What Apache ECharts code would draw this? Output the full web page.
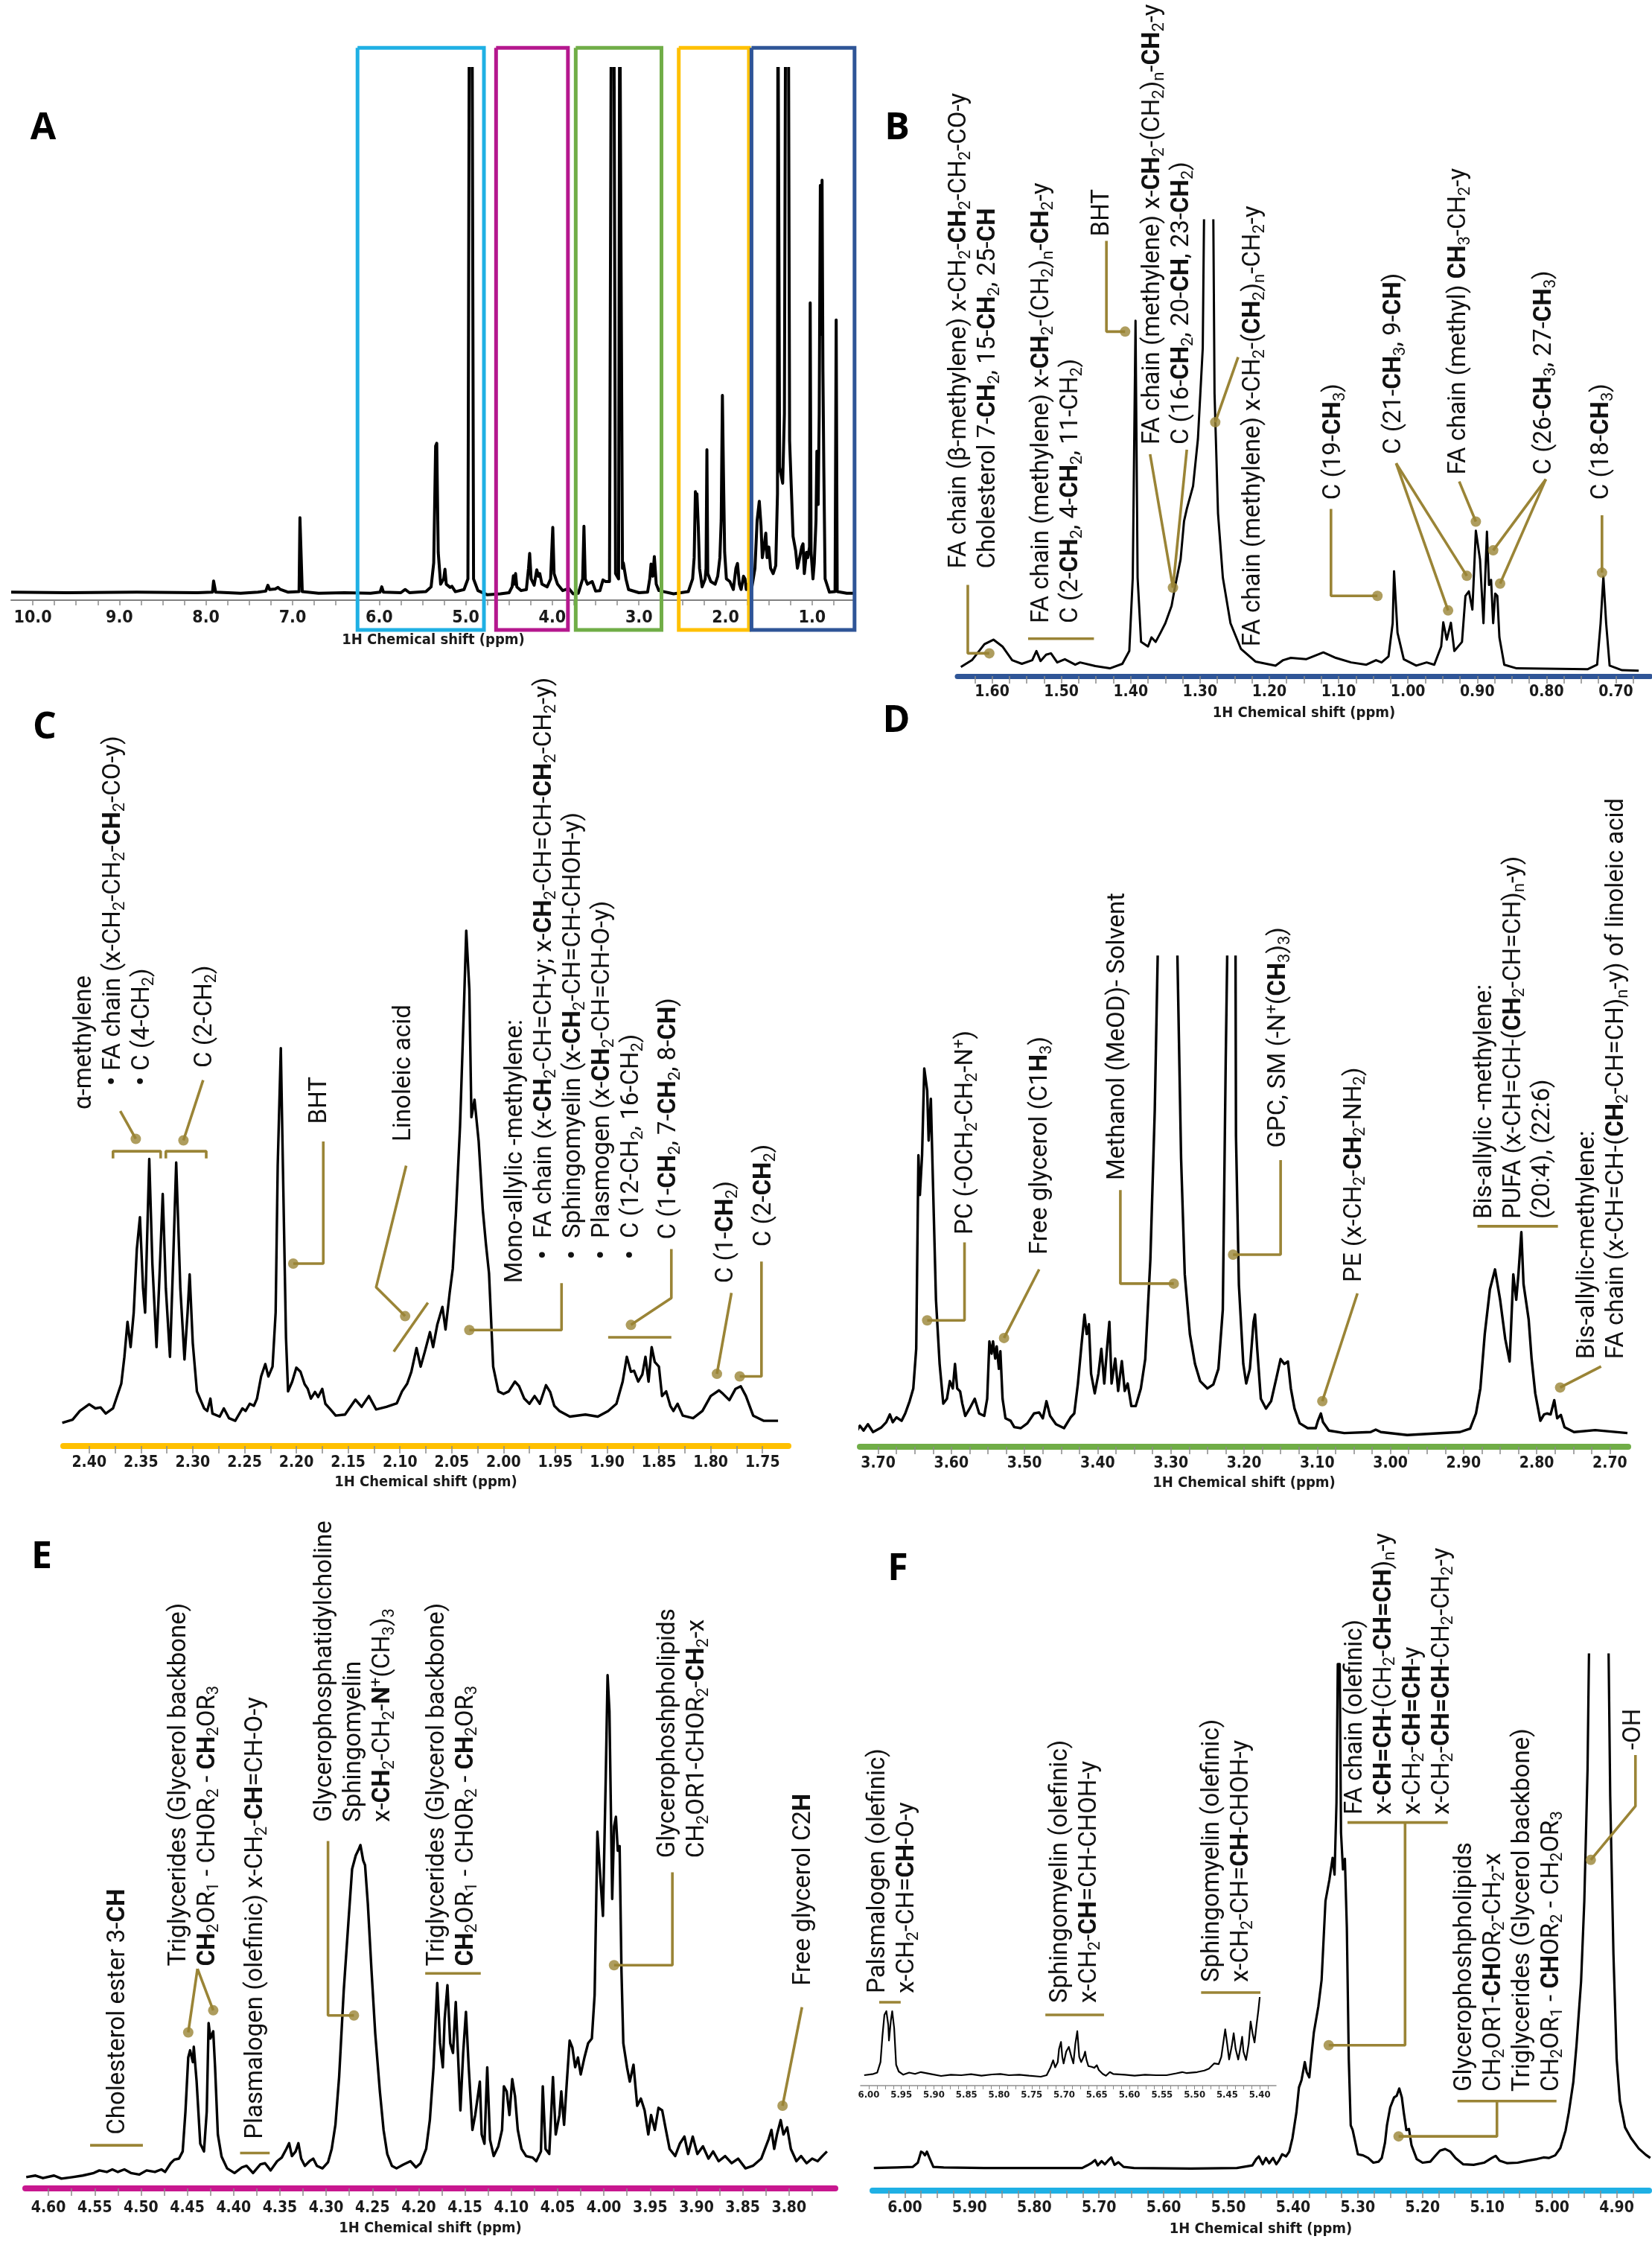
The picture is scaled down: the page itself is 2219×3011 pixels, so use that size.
<!DOCTYPE html>
<html lang="en">
<head>
<meta charset="UTF-8">
<title>1H NMR lipid extract</title>
<style>
  html, body { margin: 0; padding: 0; background: #fff; }
  #chart { width: 2219px; height: 3011px; }
</style>
</head>
<body>
<div id="chart"></div>
<script src="https://cdn.jsdelivr.net/npm/echarts@6/dist/echarts.min.js"></script>
<script>
// ---- data: [ppm, relative intensity] ----
var specA = [
  [10.25,0.015],[9.6,0.014],[8.8,0.015],[8.1,0.014],[7.925,0.015],[7.912,0.036],[7.898,0.036],[7.888,0.015],
  [7.6,0.013],[7.4,0.015],[7.31,0.017],[7.285,0.028],[7.265,0.02],[7.2,0.021],[7.17,0.024],[7.14,0.02],[7.05,0.015],
  [6.925,0.016],[6.915,0.155],[6.898,0.155],[6.888,0.016],[6.7,0.013],[6.4,0.014],[6.1,0.013],[5.99,0.015],[5.97,0.025],
  [5.95,0.015],[5.75,0.014],[5.70,0.02],[5.65,0.014],[5.46,0.016],[5.40,0.025],[5.37,0.07],[5.348,0.29],[5.335,0.295],
  [5.318,0.09],[5.29,0.03],[5.255,0.04],[5.24,0.058],[5.225,0.03],[5.18,0.024],[5.16,0.026],[5.12,0.016],[5.02,0.02],
  [4.975,0.04],[4.958,1.2],[4.928,1.2],[4.91,0.04],[4.86,0.018],[4.75,0.01],[4.6,0.012],[4.50,0.014],[4.465,0.025],
  [4.45,0.046],[4.435,0.03],[4.425,0.05],[4.41,0.025],[4.36,0.018],[4.30,0.02],[4.275,0.06],[4.262,0.088],[4.245,0.04],
  [4.21,0.028],[4.18,0.057],[4.16,0.045],[4.145,0.05],[4.12,0.03],[4.06,0.025],[4.02,0.04],[3.995,0.137],[3.98,0.05],
  [3.94,0.03],[3.88,0.018],[3.81,0.022],[3.76,0.012],[3.70,0.013],[3.65,0.04],[3.635,0.139],[3.62,0.04],[3.595,0.03],
  [3.54,0.035],[3.5,0.017],[3.45,0.018],[3.415,0.038],[3.385,0.035],[3.34,0.035],[3.318,1.2],[3.29,1.2],[3.27,0.05],
  [3.235,0.04],[3.222,1.2],[3.208,1.2],[3.19,0.06],[3.18,0.07],[3.15,0.04],[3.12,0.02],[3.0,0.014],[2.9,0.015],
  [2.875,0.04],[2.86,0.068],[2.84,0.045],[2.822,0.082],[2.80,0.03],[2.77,0.018],[2.6,0.012],[2.43,0.016],[2.38,0.04],
  [2.362,0.08],[2.348,0.204],[2.34,0.16],[2.33,0.2],[2.315,0.14],[2.30,0.06],[2.27,0.025],[2.235,0.04],[2.225,0.06],
  [2.215,0.283],[2.205,0.05],[2.17,0.035],[2.12,0.03],[2.09,0.045],[2.065,0.08],[2.05,0.15],[2.036,0.385],[2.025,0.25],
  [2.01,0.09],[1.99,0.04],[1.95,0.035],[1.91,0.02],[1.88,0.06],[1.862,0.069],[1.84,0.03],[1.82,0.02],[1.792,0.045],
  [1.775,0.04],[1.76,0.02],[1.74,0.03],[1.70,0.02],[1.66,0.06],[1.635,0.15],[1.61,0.186],[1.59,0.14],[1.575,0.08],
  [1.555,0.1],[1.535,0.126],[1.52,0.08],[1.50,0.1],[1.48,0.06],[1.45,0.05],[1.42,0.065],[1.40,0.2],[1.395,1.2],
  [1.385,1.2],[1.375,0.25],[1.34,0.22],[1.32,0.35],[1.305,1.2],[1.275,1.2],[1.26,0.3],[1.22,0.12],[1.19,0.093],
  [1.17,0.06],[1.15,0.075],[1.12,0.1],[1.105,0.106],[1.09,0.05],[1.065,0.09],[1.05,0.08],[1.03,0.1],[1.022,0.559],
  [1.012,0.09],[0.99,0.04],[0.975,0.07],[0.955,0.15],[0.945,0.28],[0.93,0.18],[0.918,0.35],[0.905,0.78],[0.895,0.5],
  [0.885,0.79],[0.875,0.43],[0.865,0.25],[0.85,0.04],[0.80,0.015],[0.735,0.016],[0.722,0.527],[0.71,0.016],[0.6,0.013],[0.5,0.013]
];
var specB = [
  [1.645,0.02],[1.629,0.035],[1.611,0.07],[1.598,0.08],[1.585,0.065],[1.571,0.035],[1.557,0.027],[1.542,0.035],
  [1.536,0.055],[1.530,0.033],[1.522,0.047],[1.515,0.05],[1.506,0.03],[1.495,0.037],[1.480,0.025],[1.473,0.03],
  [1.451,0.022],[1.430,0.017],[1.412,0.027],[1.402,0.055],[1.397,0.216],[1.393,0.78],[1.390,0.216],[1.385,0.075],
  [1.375,0.065],[1.370,0.085],[1.364,0.075],[1.357,0.095],[1.350,0.116],[1.341,0.154],[1.336,0.196],[1.328,0.256],
  [1.323,0.34],[1.319,0.367],[1.310,0.417],[1.303,0.52],[1.296,0.72],[1.291,1.5],[1.283,1.5],[1.279,0.62],
  [1.274,0.357],[1.267,0.216],[1.256,0.116],[1.241,0.06],[1.220,0.032],[1.191,0.023],[1.180,0.035],[1.169,0.04],
  [1.147,0.037],[1.122,0.052],[1.104,0.04],[1.082,0.03],[1.060,0.025],[1.046,0.035],[1.038,0.03],[1.028,0.043],
  [1.022,0.116],[1.020,0.23],[1.015,0.095],[1.006,0.037],[0.988,0.023],[0.973,0.03],[0.962,0.025],[0.952,0.065],
  [0.949,0.118],[0.944,0.08],[0.938,0.117],[0.933,0.055],[0.922,0.075],[0.917,0.176],[0.912,0.186],[0.907,0.146],
  [0.902,0.319],[0.896,0.256],[0.891,0.116],[0.886,0.317],[0.883,0.2],[0.880,0.211],[0.877,0.116],[0.874,0.181],
  [0.871,0.176],[0.868,0.085],[0.861,0.025],[0.843,0.017],[0.741,0.015],[0.727,0.025],[0.722,0.116],[0.718,0.218],
  [0.714,0.116],[0.709,0.023],[0.691,0.013],[0.667,0.012]
];
var specC = [
  [2.426,0.045],[2.416,0.051],[2.409,0.068],[2.400,0.081],[2.394,0.073],[2.389,0.075],[2.384,0.063],[2.377,0.073],
  [2.369,0.121],[2.366,0.173],[2.363,0.241],[2.360,0.192],[2.357,0.259],[2.354,0.382],[2.351,0.444],[2.348,0.306],
  [2.346,0.259],[2.342,0.557],[2.339,0.354],[2.335,0.192],[2.332,0.335],[2.329,0.489],[2.326,0.306],[2.322,0.173],
  [2.319,0.354],[2.316,0.550],[2.312,0.306],[2.308,0.168],[2.305,0.259],[2.303,0.333],[2.300,0.20],[2.296,0.106],
  [2.289,0.073],[2.286,0.068],[2.283,0.092],[2.281,0.063],[2.274,0.057],[2.270,0.073],[2.265,0.054],[2.259,0.049],
  [2.252,0.073],[2.249,0.068],[2.245,0.082],[2.241,0.078],[2.238,0.092],[2.234,0.135],[2.230,0.159],[2.227,0.135],
  [2.223,0.154],[2.220,0.259],[2.218,0.544],[2.215,0.772],[2.213,0.544],[2.210,0.21],[2.208,0.106],[2.204,0.125],
  [2.200,0.152],[2.196,0.144],[2.192,0.12],[2.189,0.111],[2.186,0.092],[2.182,0.105],[2.179,0.095],[2.175,0.111],
  [2.172,0.082],[2.168,0.073],[2.162,0.059],[2.153,0.061],[2.143,0.09],[2.137,0.076],[2.130,0.097],[2.123,0.071],
  [2.113,0.076],[2.103,0.083],[2.098,0.106],[2.093,0.121],[2.089,0.144],[2.084,0.19],[2.080,0.154],[2.076,0.183],
  [2.071,0.221],[2.068,0.192],[2.064,0.235],[2.059,0.27],[2.056,0.226],[2.052,0.297],[2.049,0.344],[2.046,0.449],
  [2.042,0.62],[2.038,0.867],[2.036,1.0],[2.033,0.886],[2.031,0.638],[2.028,0.672],[2.024,0.591],[2.020,0.458],
  [2.017,0.392],[2.014,0.335],[2.010,0.154],[2.005,0.106],[2.000,0.101],[1.995,0.106],[1.989,0.125],[1.985,0.116],
  [1.980,0.092],[1.975,0.082],[1.970,0.097],[1.965,0.082],[1.959,0.118],[1.955,0.105],[1.951,0.078],[1.946,0.068],
  [1.936,0.057],[1.921,0.061],[1.909,0.057],[1.899,0.068],[1.891,0.082],[1.885,0.125],[1.881,0.173],[1.877,0.144],
  [1.874,0.146],[1.870,0.125],[1.866,0.139],[1.863,0.173],[1.860,0.125],[1.857,0.192],[1.854,0.163],[1.850,0.154],
  [1.847,0.097],[1.843,0.106],[1.839,0.078],[1.836,0.068],[1.832,0.082],[1.827,0.059],[1.817,0.054],[1.808,0.068],
  [1.800,0.097],[1.792,0.108],[1.788,0.101],[1.782,0.089],[1.776,0.111],[1.771,0.116],[1.766,0.097],[1.759,0.059],
  [1.749,0.049],[1.735,0.049]
];
var specD = [
  [3.731,0.027],[3.725,0.043],[3.720,0.033],[3.714,0.046],[3.707,0.030],[3.696,0.039],[3.689,0.05],[3.684,0.066],
  [3.680,0.05],[3.675,0.06],[3.668,0.053],[3.663,0.068],[3.657,0.093],[3.652,0.119],[3.648,0.20],[3.645,0.595],
  [3.643,0.514],[3.640,0.595],[3.637,0.772],[3.633,0.727],[3.631,0.625],[3.628,0.71],[3.625,0.532],[3.621,0.30],
  [3.616,0.169],[3.611,0.088],[3.606,0.098],[3.602,0.134],[3.598,0.119],[3.595,0.169],[3.592,0.119],[3.588,0.113],
  [3.585,0.088],[3.581,0.063],[3.575,0.078],[3.568,0.098],[3.562,0.068],[3.555,0.063],[3.551,0.098],[3.548,0.215],
  [3.545,0.19],[3.543,0.215],[3.540,0.18],[3.538,0.205],[3.535,0.159],[3.533,0.195],[3.530,0.098],[3.526,0.058],
  [3.519,0.053],[3.514,0.04],[3.505,0.038],[3.496,0.048],[3.487,0.068],[3.480,0.07],[3.475,0.058],[3.470,0.093],
  [3.465,0.063],[3.457,0.046],[3.446,0.038],[3.437,0.06],[3.432,0.068],[3.427,0.129],[3.422,0.21],[3.418,0.27],
  [3.415,0.23],[3.412,0.25],[3.409,0.149],[3.404,0.109],[3.399,0.149],[3.395,0.2],[3.391,0.129],[3.387,0.205],
  [3.384,0.255],[3.381,0.129],[3.376,0.18],[3.372,0.114],[3.367,0.175],[3.363,0.114],[3.359,0.129],[3.354,0.083],
  [3.348,0.083],[3.341,0.119],[3.335,0.179],[3.328,0.382],[3.322,0.686],[3.318,1.0],[3.312,2.5],[3.297,2.5],
  [3.291,1.0],[3.286,0.588],[3.281,0.352],[3.274,0.23],[3.267,0.169],[3.260,0.134],[3.250,0.119],[3.242,0.127],
  [3.235,0.159],[3.229,0.28],[3.225,0.79],[3.223,1.0],[3.220,2.5],[3.214,2.5],[3.211,0.635],[3.207,0.33],
  [3.201,0.169],[3.197,0.129],[3.192,0.159],[3.187,0.255],[3.185,0.27],[3.182,0.2],[3.177,0.098],[3.170,0.078],
  [3.163,0.093],[3.156,0.139],[3.150,0.179],[3.145,0.169],[3.140,0.174],[3.136,0.119],[3.131,0.078],[3.124,0.048],
  [3.113,0.038],[3.102,0.038],[3.099,0.053],[3.095,0.068],[3.092,0.05],[3.084,0.033],[3.063,0.028],[3.027,0.03],
  [3.020,0.035],[3.013,0.03],[2.977,0.024],[2.905,0.03],[2.891,0.037],[2.883,0.068],[2.877,0.119],[2.871,0.23],
  [2.864,0.321],[2.857,0.362],[2.850,0.30],[2.843,0.22],[2.837,0.174],[2.832,0.352],[2.828,0.30],[2.825,0.352],
  [2.821,0.438],[2.818,0.332],[2.814,0.291],[2.811,0.26],[2.807,0.18],[2.802,0.109],[2.795,0.053],[2.790,0.066],
  [2.786,0.068],[2.781,0.066],[2.776,0.095],[2.772,0.058],[2.767,0.065],[2.762,0.04],[2.749,0.03],[2.720,0.034],
  [2.698,0.031],[2.676,0.028]
];
var specE = [
  [4.624,0.022],[4.614,0.025],[4.606,0.020],[4.594,0.025],[4.586,0.019],[4.574,0.022],[4.563,0.025],[4.551,0.030],
  [4.545,0.035],[4.537,0.032],[4.531,0.037],[4.525,0.032],[4.518,0.037],[4.511,0.030],[4.502,0.027],[4.494,0.035],
  [4.485,0.032],[4.478,0.037],[4.474,0.032],[4.468,0.049],[4.464,0.056],[4.459,0.058],[4.455,0.072],[4.452,0.15],
  [4.449,0.255],[4.447,0.269],[4.444,0.246],[4.443,0.276],[4.440,0.21],[4.436,0.087],[4.432,0.072],[4.429,0.15],
  [4.427,0.322],[4.425,0.292],[4.422,0.306],[4.420,0.236],[4.417,0.105],[4.413,0.062],[4.407,0.039],[4.399,0.030],
  [4.391,0.041],[4.386,0.044],[4.379,0.030],[4.371,0.047],[4.366,0.049],[4.360,0.035],[4.353,0.053],[4.348,0.06],
  [4.343,0.077],[4.340,0.088],[4.337,0.063],[4.333,0.072],[4.330,0.088],[4.327,0.058],[4.323,0.044],[4.318,0.053],
  [4.314,0.058],[4.310,0.044],[4.304,0.039],[4.298,0.051],[4.294,0.077],[4.290,0.124],[4.286,0.217],[4.281,0.386],
  [4.276,0.518],[4.272,0.622],[4.268,0.649],[4.265,0.66],[4.263,0.669],[4.260,0.639],[4.258,0.630],[4.255,0.555],
  [4.251,0.424],[4.247,0.302],[4.242,0.189],[4.238,0.114],[4.234,0.067],[4.229,0.044],[4.224,0.039],[4.217,0.046],
  [4.209,0.053],[4.203,0.041],[4.198,0.049],[4.192,0.077],[4.188,0.133],[4.184,0.236],[4.180,0.40],[4.177,0.283],
  [4.174,0.236],[4.172,0.33],[4.169,0.396],[4.166,0.283],[4.163,0.264],[4.160,0.363],[4.157,0.236],[4.155,0.152],
  [4.152,0.264],[4.149,0.344],[4.146,0.236],[4.142,0.114],[4.139,0.143],[4.134,0.208],[4.132,0.105],[4.129,0.087],
  [4.126,0.236],[4.123,0.095],[4.119,0.063],[4.114,0.082],[4.110,0.114],[4.108,0.199],[4.105,0.189],[4.102,0.143],
  [4.099,0.213],[4.096,0.18],[4.093,0.114],[4.089,0.077],[4.084,0.063],[4.077,0.06],[4.073,0.053],[4.068,0.072],
  [4.066,0.199],[4.063,0.077],[4.059,0.067],[4.055,0.217],[4.052,0.105],[4.048,0.143],[4.046,0.189],[4.043,0.124],
  [4.040,0.208],[4.037,0.288],[4.034,0.274],[4.031,0.236],[4.028,0.255],[4.025,0.222],[4.021,0.255],[4.017,0.283],
  [4.013,0.292],[4.010,0.377],[4.007,0.695],[4.004,0.611],[4.001,0.531],[3.998,0.799],[3.996,1.0],[3.994,0.93],
  [3.991,0.564],[3.989,0.705],[3.987,0.724],[3.985,0.658],[3.983,0.667],[3.981,0.424],[3.979,0.283],[3.975,0.236],
  [3.972,0.208],[3.968,0.241],[3.964,0.161],[3.960,0.175],[3.956,0.152],[3.952,0.105],[3.949,0.143],[3.945,0.114],
  [3.941,0.157],[3.937,0.152],[3.933,0.114],[3.929,0.077],[3.923,0.063],[3.918,0.087],[3.913,0.101],[3.909,0.067],
  [3.904,0.101],[3.899,0.067],[3.893,0.082],[3.887,0.058],[3.882,0.072],[3.876,0.053],[3.869,0.063],[3.862,0.049],
  [3.855,0.058],[3.847,0.039],[3.839,0.044],[3.830,0.058],[3.826,0.077],[3.822,0.096],[3.819,0.114],[3.816,0.077],
  [3.813,0.105],[3.809,0.133],[3.806,0.105],[3.802,0.119],[3.798,0.077],[3.792,0.053],[3.787,0.063],[3.781,0.049],
  [3.775,0.058],[3.769,0.053],[3.764,0.063],[3.759,0.072]
];
var specF = [
  [6.048,0.043],[6.012,0.044],[5.988,0.045],[5.980,0.053],[5.975,0.074],[5.972,0.072],[5.969,0.067],[5.966,0.074],
  [5.962,0.062],[5.956,0.045],[5.940,0.044],[5.877,0.043],[5.797,0.043],[5.726,0.043],[5.718,0.048],[5.711,0.053],
  [5.706,0.058],[5.702,0.048],[5.696,0.056],[5.691,0.05],[5.686,0.057],[5.681,0.063],[5.676,0.049],[5.670,0.054],
  [5.662,0.045],[5.646,0.043],[5.558,0.042],[5.487,0.043],[5.463,0.048],[5.457,0.06],[5.453,0.065],[5.447,0.05],
  [5.442,0.062],[5.437,0.052],[5.431,0.062],[5.426,0.05],[5.422,0.057],[5.417,0.069],[5.411,0.065],[5.406,0.074],
  [5.401,0.10],[5.395,0.148],[5.391,0.196],[5.387,0.21],[5.382,0.244],[5.379,0.225],[5.375,0.215],[5.372,0.253],
  [5.368,0.30],[5.361,0.35],[5.356,0.40],[5.350,0.55],[5.344,0.59],[5.339,0.632],[5.336,0.60],[5.333,0.737],
  [5.331,1.0],[5.328,1.0],[5.326,0.68],[5.323,0.61],[5.320,0.63],[5.317,0.50],[5.314,0.25],[5.311,0.124],
  [5.308,0.115],[5.300,0.069],[5.292,0.067],[5.284,0.062],[5.276,0.053],[5.268,0.055],[5.263,0.062],[5.258,0.091],
  [5.255,0.124],[5.250,0.158],[5.244,0.177],[5.240,0.18],[5.236,0.194],[5.232,0.177],[5.229,0.148],[5.225,0.115],
  [5.221,0.117],[5.217,0.086],[5.209,0.06],[5.200,0.053],[5.188,0.055],[5.181,0.065],[5.173,0.076],[5.165,0.079],
  [5.157,0.074],[5.149,0.062],[5.137,0.05],[5.121,0.049],[5.105,0.053],[5.093,0.062],[5.087,0.066],[5.081,0.057],
  [5.069,0.052],[5.053,0.053],[5.037,0.057],[5.023,0.06],[5.013,0.063],[5.005,0.062],[4.995,0.067],[4.987,0.081],
  [4.979,0.114],[4.974,0.148],[4.967,0.206],[4.962,0.277],[4.955,0.397],[4.950,0.55],[4.945,0.8],[4.940,1.3],
  [4.915,1.3],[4.910,0.75],[4.905,0.45],[4.900,0.25],[4.895,0.17],[4.887,0.12],[4.878,0.10],[4.866,0.08],
  [4.855,0.068],[4.848,0.062]
];
var specInset = [
  [6.007,0.14],[5.993,0.157],[5.987,0.175],[5.982,0.316],[5.979,0.668],[5.976,0.95],[5.973,1.0],[5.970,0.81],
  [5.969,0.605],[5.966,0.88],[5.964,1.0],[5.961,0.77],[5.958,0.28],[5.954,0.19],[5.947,0.147],[5.938,0.175],
  [5.929,0.157],[5.920,0.182],[5.905,0.157],[5.889,0.13],[5.874,0.147],[5.858,0.14],[5.843,0.154],[5.827,0.133],
  [5.811,0.15],[5.798,0.157],[5.785,0.14],[5.769,0.147],[5.754,0.133],[5.736,0.12],[5.727,0.14],[5.721,0.246],
  [5.717,0.34],[5.714,0.246],[5.710,0.316],[5.708,0.492],[5.705,0.587],[5.703,0.386],[5.701,0.298],[5.697,0.457],
  [5.693,0.52],[5.689,0.386],[5.686,0.298],[5.683,0.562],[5.680,0.731],[5.677,0.386],[5.674,0.316],[5.670,0.393],
  [5.668,0.457],[5.666,0.351],[5.663,0.263],[5.658,0.253],[5.654,0.239],[5.650,0.274],[5.647,0.21],[5.641,0.157],
  [5.636,0.133],[5.630,0.182],[5.625,0.157],[5.607,0.147],[5.592,0.133],[5.576,0.147],[5.559,0.14],[5.543,0.14],
  [5.528,0.165],[5.519,0.182],[5.512,0.168],[5.496,0.182],[5.485,0.203],[5.478,0.228],[5.470,0.298],[5.463,0.288],
  [5.459,0.386],[5.453,0.756],[5.450,0.562],[5.447,0.351],[5.443,0.527],[5.440,0.704],[5.437,0.492],[5.433,0.351],
  [5.430,0.492],[5.427,0.657],[5.425,0.457],[5.421,0.344],[5.417,0.562],[5.414,0.862],[5.411,0.703],[5.408,0.58],
  [5.405,0.809],[5.402,1.02],[5.400,1.19]
];

// axis extents [min, max] in ppm
var rangeA = [0.5, 10.25], rangeB = [0.65, 1.65], rangeC = [1.725, 2.425];
var rangeD = [2.675, 3.725], rangeE = [3.75, 4.625], rangeF = [4.85, 6.05], rangeInset = [5.375, 6.0125];

// the five coloured boxes of panel A: [high ppm, low ppm]
var boxRanges = [[6.25, 4.79], [4.65, 3.82], [3.73, 2.74], [2.54, 1.73], [1.70, 0.51]];

// annotations: [ppm, intensity at text start, text]; ** bold, _ subscript, ^ superscript, > indent
var notesB = [
  [1.647, 0.236, 'FA chain (β-methylene) x-CH_2-**CH_2**-CH_2-CO-y\nCholesterol 7-**CH_2**, 15-**CH_2**, 25-**CH**'],
  [1.528, 0.116, 'FA chain (methylene) x-**CH_2**-(CH_2)_n-**CH_2**-y\nC (2-**CH_2**, 4-**CH_2**, 11-CH_2)'],
  [1.441, 0.965, 'BHT'],
  [1.368, 0.508, 'FA chain (methylene) x-**CH_2**-(CH_2)_n-**CH_2**-y\nC (16-**CH_2**, 20-**CH**, 23-**CH_2**)'],
  [1.223, 0.065, 'FA chain (methylene) x-CH_2-(**CH_2**)_n-CH_2-y'],
  [1.107, 0.387, 'C (19-**CH_3**)'],
  [1.020, 0.487, 'C (21-**CH_3**, 9-**CH**)'],
  [0.926, 0.442, 'FA chain (methyl) **CH_3**-CH_2-y'],
  [0.803, 0.442, 'C (26-**CH_3**, 27-**CH_3**)'],
  [0.720, 0.387, 'C (18-**CH_3**)']
];
var leadersB = [
  [[1.635, 0.20], [1.635, 0.05], [1.604, 0.05]],
  [[1.548, 0.082], [1.453, 0.082]],
  [[1.435, 0.955], [1.435, 0.756], [1.408, 0.756]],
  [[1.372, 0.487], [1.339, 0.194]], [[1.319, 0.497], [1.339, 0.194]],
  [[1.245, 0.70], [1.278, 0.557]],
  [[1.111, 0.367], [1.111, 0.176], [1.044, 0.176]],
  [[1.017, 0.467], [0.942, 0.144]], [[1.017, 0.467], [0.915, 0.22]],
  [[0.926, 0.427], [0.902, 0.339]],
  [[0.801, 0.432], [0.877, 0.276]], [[0.801, 0.432], [0.867, 0.203]],
  [[0.720, 0.353], [0.720, 0.227]]
];
var dotsB = [[1.604, 0.05], [1.408, 0.756], [1.339, 0.194], [1.278, 0.557], [1.044, 0.176], [0.942, 0.144],
  [0.915, 0.22], [0.902, 0.339], [0.877, 0.276], [0.867, 0.203], [0.720, 0.227]];

var notesC = [
  [2.404, 0.653, 'α-methylene\n>**•** FA chain (x-CH_2-CH_2-**CH_2**-CO-y)\n>**•** C (4-CH_2)'],
  [2.288, 0.734, 'C (2-CH_2)'],
  [2.177, 0.625, 'BHT'],
  [2.096, 0.591, 'Linoleic acid'],
  [1.988, 0.316, 'Mono-allylic -methylene:\n>**•**  FA chain (x-**CH_2**-CH=CH-y; x-**CH_2**-CH=CH-**CH_2**-CH_2-y)\n>**•**  Sphingomyelin (x-**CH_2**-CH=CH-CHOH-y)\n>**•**  Plasmogen (x-**CH_2**-CH=CH-O-y)\n>**•**  C (12-CH_2, 16-CH_2)'],
  [1.840, 0.401, 'C (1-**CH_2**, 7-**CH_2**, 8-**CH**)'],
  [1.785, 0.316, 'C (1-**CH_2**)'],
  [1.748, 0.387, 'C (2-**CH_2**)']
];
var leadersC = [
  [[2.377, 0.558], [2.377, 0.572], [2.331, 0.572], [2.331, 0.558]],
  [[2.370, 0.650], [2.355, 0.596]],
  [[2.326, 0.558], [2.326, 0.572], [2.287, 0.572], [2.287, 0.558]],
  [[2.290, 0.710], [2.309, 0.593]],
  [[2.174, 0.591], [2.174, 0.354], [2.203, 0.354]],
  [[2.094, 0.544], [2.123, 0.308], [2.095, 0.252]],
  [[2.106, 0.183], [2.073, 0.278]],
  [[1.944, 0.316], [1.944, 0.225], [2.033, 0.225]],
  [[1.838, 0.382], [1.838, 0.287], [1.877, 0.235]],
  [[1.899, 0.211], [1.838, 0.211]],
  [[1.780, 0.297], [1.794, 0.140]],
  [[1.751, 0.358], [1.751, 0.135], [1.772, 0.135]]
];
var dotsC = [[2.355, 0.596], [2.309, 0.593], [2.203, 0.354], [2.095, 0.252], [2.033, 0.225], [1.877, 0.235],
  [1.794, 0.140], [1.772, 0.135]];

var notesD = [
  [3.580, 0.433, 'PC (-OCH_2-CH_2-N^+)'],
  [3.478, 0.392, 'Free glycerol (C1**H_3**)'],
  [3.372, 0.544, 'Methanol (MeOD)- Solvent'],
  [3.152, 0.610, 'GPC, SM (-N^+(**CH_3**)_3)'],
  [3.049, 0.336, 'PE (x-CH_2-**CH_2**-NH_2)'],
  [2.871, 0.465, 'Bis-allylic -methylene:\nPUFA (x-CH=CH-(**CH_2**-CH=CH)_n-y)\n(20:4), (22:6)'],
  [2.730, 0.179, 'Bis-allylic-methylene:\nFA chain (x-CH=CH-(**CH_2**-CH=CH)_n-y) of linoleic acid']
];
var leadersD = [
  [[3.582, 0.417], [3.582, 0.258], [3.633, 0.258]],
  [[3.480, 0.362], [3.528, 0.222]],
  [[3.369, 0.524], [3.369, 0.333], [3.296, 0.333]],
  [[3.150, 0.585], [3.150, 0.392], [3.215, 0.392]],
  [[3.045, 0.313], [3.093, 0.093]],
  [[2.881, 0.45], [2.771, 0.45]],
  [[2.712, 0.164], [2.768, 0.121]]
];
var dotsD = [[3.633, 0.258], [3.528, 0.222], [3.296, 0.333], [3.215, 0.392], [3.093, 0.093], [2.768, 0.121]];

var notesE = [
  [4.525, 0.105, 'Cholesterol ester 3-**CH**'],
  [4.459, 0.433, 'Triglycerides (Glycerol backbone)\n**CH_2**OR_1 - CHOR_2 - **CH_2**OR_3'],
  [4.376, 0.096, 'Plasmalogen (olefinic) x-CH_2-**CH**=CH-O-y'],
  [4.301, 0.714, 'Glycerophosphatidylcholine\nSphingomyelin\nx-**CH_2**-CH_2-**N**^+(CH_3)_3'],
  [4.180, 0.433, 'Triglycerides (Glycerol backbone)\n**CH_2**OR_1 - CHOR_2 - **CH_2**OR_3'],
  [3.930, 0.644, 'Glycerophoshpholipids\nCH_2OR1-CHOR_2-**CH_2**-x'],
  [3.784, 0.395, 'Free glycerol C2**H**']
];
var leadersE = [
  [[4.555, 0.084], [4.498, 0.084]],
  [[4.439, 0.428], [4.449, 0.304]], [[4.439, 0.428], [4.422, 0.347]],
  [[4.393, 0.069], [4.361, 0.069]],
  [[4.298, 0.677], [4.298, 0.337], [4.270, 0.337]],
  [[4.193, 0.419], [4.133, 0.419]],
  [[3.926, 0.616], [3.926, 0.435], [3.989, 0.435]],
  [[3.786, 0.353], [3.807, 0.161]]
];
var dotsE = [[4.449, 0.304], [4.422, 0.347], [4.270, 0.337], [3.989, 0.435], [3.807, 0.161]];

var notesF = [
  [5.304, 0.714, 'FA chain (olefinic)\nx-**CH=CH**-(CH_2-**CH=CH**)_n-y\nx-CH_2-**CH=CH**-y\nx-CH_2-**CH=CH**-CH_2-CH_2-y'],
  [5.135, 0.188, 'Glycerophoshpholipids\nCH_2OR1-**CH**OR_2-CH_2-x\nTriglycerides (Glycerol backbone)\nCH_2OR_1 - **CH**OR_2 - CH_2OR_3'],
  [4.873, 0.837, '-OH']
];
var leadersF = [
  [[5.316, 0.699], [5.161, 0.699]],
  [[5.227, 0.699], [5.227, 0.276], [5.345, 0.276]],
  [[5.146, 0.170], [4.993, 0.170]],
  [[5.085, 0.170], [5.085, 0.103], [5.237, 0.103]],
  [[4.871, 0.827], [4.871, 0.73], [4.940, 0.628]]
];
var dotsF = [[5.345, 0.276], [5.237, 0.103], [4.940, 0.628]];

var notesInset = [
  [5.985, 1.24, 'Palsmalogen (olefinic)\nx-CH_2-CH=**CH**-O-y'],
  [5.706, 1.11, 'Sphingomyelin (olefinic)\nx-CH_2-**CH**=CH-CHOH-y'],
  [5.472, 1.39, 'Sphingomyelin (olefinic)\nx-CH_2-CH=**CH**-CHOH-y']
];
var leadersInset = [
  [[5.984, 1.12], [5.951, 1.12]],
  [[5.729, 0.95], [5.639, 0.95]],
  [[5.490, 1.25], [5.399, 1.25]]
];

// ---- drawing ----
var GOLD = '#9a8436';
var AXIS_FONT = "'DejaVu Sans Condensed', 'DejaVu Sans', sans-serif";
var TEXT_FONT = "Roboto, 'Liberation Sans', sans-serif";
var LINE_H = 39;
var BOX_COLORS = ['#1fb0e4', '#b5178e', '#70ad47', '#ffc000', '#2f5597'];

var RICH = {
  n: { fontFamily: TEXT_FONT, fontSize: 33, lineHeight: LINE_H, color: '#111' },
  b: { fontFamily: TEXT_FONT, fontSize: 33, lineHeight: LINE_H, color: '#111', fontWeight: 'bold' },
  s: { fontFamily: TEXT_FONT, fontSize: 22, lineHeight: 23, color: '#111', verticalAlign: 'bottom' },
  p: { fontFamily: TEXT_FONT, fontSize: 22, lineHeight: 23, color: '#111', verticalAlign: 'top' },
  i: { fontFamily: TEXT_FONT, fontSize: 33, lineHeight: LINE_H, width: 32 }
};

function toRich(src) {
  return src.split('\n').map(function (line) {
    var out = '', buf = '', bold = false;
    if (line.charAt(0) === '>') { out += '{i| }'; line = line.slice(1); }
    function flush() {
      if (buf) { out += '{' + (bold ? 'b' : 'n') + '|' + buf + '}'; buf = ''; }
    }
    for (var k = 0; k < line.length; k++) {
      var c = line.charAt(k);
      if (c === '*' && line.charAt(k + 1) === '*') { flush(); bold = !bold; k++; }
      else if (c === '_' || c === '^') {
        flush();
        out += '{' + (c === '_' ? 's' : 'p') + '|' + line.charAt(k + 1) + '}';
        k++;
      } else buf += c;
    }
    flush();
    return out;
  }).join('\n');
}

function every(step, digits) {
  return function (v) {
    var r = v / step;
    return Math.abs(r - Math.round(r)) < 1e-6 ? v.toFixed(digits) : '';
  };
}

var panels = [
  { letter: 'A', at: [58, 173], spec: specA, range: rangeA, y: [0, 1], rect: [15, 92, 1134, 714],
    tick: 0.25, label: 1, digits: 1, axisColor: '#808080', axisWidth: 2, tickLen: 7, margin: 13, gap: 44, lw: 4,
    fs: 23, notes: [], leaders: [], dots: [] },
  { letter: 'B', at: [1205, 173], spec: specB, range: rangeB, y: [0, 1], rect: [1286, 296, 931, 612],
    tick: 0.025, label: 0.1, digits: 2, axisColor: '#2f5597', axisWidth: 7, tickLen: 10, margin: 11, gap: 40, lw: 3,
    fs: 21, notes: notesB, leaders: leadersB, dots: dotsB },
  { letter: 'C', at: [60, 978], spec: specC, range: rangeC, y: [0, 1.02], rect: [85, 1236, 974, 706],
    tick: 0.025, label: 0.05, digits: 2, axisColor: '#ffc000', axisWidth: 8, tickLen: 10, margin: 12, gap: 39, lw: 3.4,
    fs: 21, notes: notesC, leaders: leadersC, dots: dotsC },
  { letter: 'D', at: [1204, 969], spec: specD, range: rangeD, y: [0, 1], rect: [1155, 1285, 1032, 658],
    tick: 0.025, label: 0.1, digits: 2, axisColor: '#70ad47', axisWidth: 8, tickLen: 10, margin: 12, gap: 39, lw: 3.4,
    fs: 21, notes: notesD, leaders: leadersD, dots: dotsD },
  { letter: 'E', at: [56, 2092], spec: specE, range: rangeE, y: [0, 1.02], rect: [34, 2236, 1088, 703],
    tick: 0.025, label: 0.05, digits: 2, axisColor: '#c8178f', axisWidth: 8, tickLen: 10, margin: 16, gap: 44, lw: 3.4,
    fs: 21, notes: notesE, leaders: leadersE, dots: dotsE },
  { letter: 'F', at: [1206, 2108], spec: specF, range: rangeF, y: [0, 1.018], rect: [1172, 2222, 1043, 720],
    tick: 0.025, label: 0.1, digits: 2, axisColor: '#1fb0e4', axisWidth: 8, tickLen: 10, margin: 13, gap: 42, lw: 3.2,
    fs: 21, notes: notesF, leaders: leadersF, dots: dotsF },
  { inset: true, spec: specInset, range: rangeInset, y: [0, 1.2], rect: [1156, 2681, 558, 120],
    tick: 0.0125, label: 0.05, digits: 2, axisColor: '#909090', axisWidth: 1.5, tickLen: 5, margin: 6, gap: 0, lw: 2.2,
    fs: 13, notes: notesInset, leaders: leadersInset, dots: [] }
];

var grids = [], xAxes = [], yAxes = [], series = [];
panels.forEach(function (p, i) {
  grids.push({ left: p.rect[0], top: p.rect[1], width: p.rect[2], height: p.rect[3], containLabel: false });
  xAxes.push({
    type: 'value', gridIndex: i, inverse: true, min: p.range[0], max: p.range[1], interval: p.tick,
    axisLine: { show: true, onZero: false, lineStyle: { color: p.axisColor, width: p.axisWidth } },
    axisTick: { show: true, length: p.tickLen, lineStyle: { color: '#8a8a8a', width: p.inset ? 1 : 1.5 } },
    axisLabel: {
      margin: p.margin, fontFamily: AXIS_FONT, fontWeight: 'bold', fontSize: p.fs,
      color: '#1a1a1a', formatter: every(p.label, p.digits), showMinLabel: false, showMaxLabel: false
    },
    splitLine: { show: false },
    name: p.inset ? '' : '1H Chemical shift (ppm)', nameLocation: 'middle', nameGap: p.gap,
    nameTextStyle: { fontFamily: AXIS_FONT, fontWeight: 'bold', fontSize: 20, color: '#1a1a1a' }
  });
  yAxes.push({ type: 'value', gridIndex: i, min: p.y[0], max: p.y[1], show: false });

  series.push({
    type: 'line', xAxisIndex: i, yAxisIndex: i, data: p.spec, symbol: 'none', silent: true,
    lineStyle: { color: '#000', width: p.lw, join: 'round' }, clip: true, z: 2
  });
  p.leaders.forEach(function (pts) {
    series.push({
      type: 'line', xAxisIndex: i, yAxisIndex: i, data: pts, symbol: 'none', silent: true, clip: false,
      lineStyle: { color: GOLD, width: 3.6 }, z: 3
    });
  });
  if (p.dots.length) {
    series.push({
      type: 'scatter', xAxisIndex: i, yAxisIndex: i, data: p.dots, symbolSize: 14, silent: true, clip: false,
      itemStyle: { color: GOLD }, z: 4
    });
  }
});

// coloured boxes of panel A
boxRanges.forEach(function (r, k) {
  series.push({
    type: 'line', xAxisIndex: 0, yAxisIndex: 0, symbol: 'none', silent: true, clip: false, z: 5,
    data: [[r[0], 1.039], [r[1], 1.039], [r[1], -0.056], [r[0], -0.056], [r[0], 1.039]],
    lineStyle: { color: BOX_COLORS[k], width: 5, join: 'miter' }
  });
});

var chart = echarts.init(document.getElementById('chart'));
chart.setOption({
  animation: false,
  backgroundColor: '#fff',
  grid: grids, xAxis: xAxes, yAxis: yAxes, series: series
});

var graphics = [];
panels.forEach(function (p, i) {
  if (p.letter) {
    graphics.push({
      type: 'text', x: p.at[0], y: p.at[1], silent: true,
      style: { text: p.letter, font: "bold 50px 'Open Sans', sans-serif", fill: '#000', align: 'center', verticalAlign: 'middle' }
    });
  }
  p.notes.forEach(function (n) {
    var pt = chart.convertToPixel({ gridIndex: i }, [n[0], n[1]]);
    graphics.push({
      type: 'text', x: pt[0] - LINE_H / 2, y: pt[1], rotation: Math.PI / 2, silent: true,
      style: { text: toRich(n[2]), rich: RICH, align: 'left', verticalAlign: 'top', fill: '#111' }
    });
  });
});
chart.setOption({ graphic: graphics });
</script>
</body>
</html>
